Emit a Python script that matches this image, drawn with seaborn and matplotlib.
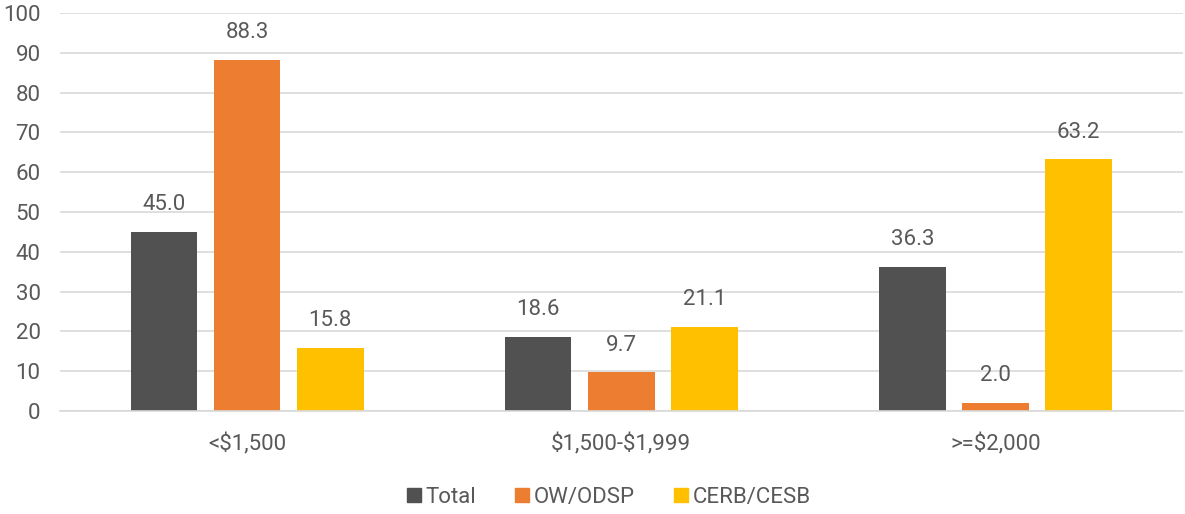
import pandas as pd
import numpy as np
import matplotlib.pyplot as plt
import seaborn as sns
from matplotlib.lines import Line2D

# Données
categories = ['<$1,500', '$1,500-$1,999', '>=$2,000']
series = ['Total', 'OW/ODSP', 'CERB/CESB']
total_vals = [45.0, 18.6, 36.3]
ow_vals = [88.3, 9.7, 2.0]
cerb_vals = [15.8, 21.1, 63.2]
colors = ['#515151', '#ED7D31', '#FFC000']

df = pd.DataFrame({
    'category': categories * 3,
    'series': [series[0]] * 3 + [series[1]] * 3 + [series[2]] * 3,
    'value': total_vals + ow_vals + cerb_vals,
})

sns.set_style('white')
plt.rcParams['font.family'] = ['Roboto', 'DejaVu Sans']
text_color = '#595959'

fig = plt.figure(figsize=(11.85, 5.14), dpi=100)
ax = fig.add_axes([0.0506, 0.2004, 0.9474, 0.7743])

sns.barplot(data=df, x='category', y='value', hue='series', order=categories,
            hue_order=series, palette=colors, width=0.667, gap=0.2,
            saturation=1, linewidth=0, legend=False, ax=ax)

for cont in ax.containers:
    ax.bar_label(cont, fmt='%.1f', padding=12, fontsize=16, color=text_color)

ax.set_ylim(0, 100)
ax.set_yticks(range(0, 101, 10))
ax.set_xlim(-0.5, 2.5)
ax.set_xticks(range(len(categories)))
ax.set_xticklabels(categories, parse_math=False)
ax.yaxis.grid(True, color='#D9D9D9', linewidth=1.2)
ax.set_axisbelow(True)
for side in ['left', 'right', 'top']:
    ax.spines[side].set_visible(False)
ax.spines['bottom'].set_color('#D9D9D9')
ax.spines['bottom'].set_linewidth(1.2)
ax.tick_params(axis='both', length=0, labelsize=16, labelcolor=text_color)
ax.tick_params(axis='x', pad=16)
ax.tick_params(axis='y', pad=14)
ax.set_xlabel('')
ax.set_ylabel('')

handles = [Line2D([0], [0], marker='s', linestyle='', markersize=10,
                  markerfacecolor=c, markeredgecolor=c) for c in colors]
leg = fig.legend(handles, series, loc='center', bbox_to_anchor=(0.512, 0.033),
                 ncol=3, frameon=False, fontsize=16, handletextpad=0.0,
                 columnspacing=1.6, handlelength=1.0)
for t in leg.get_texts():
    t.set_color(text_color)

plt.savefig('out.png', dpi=100)
plt.close()
